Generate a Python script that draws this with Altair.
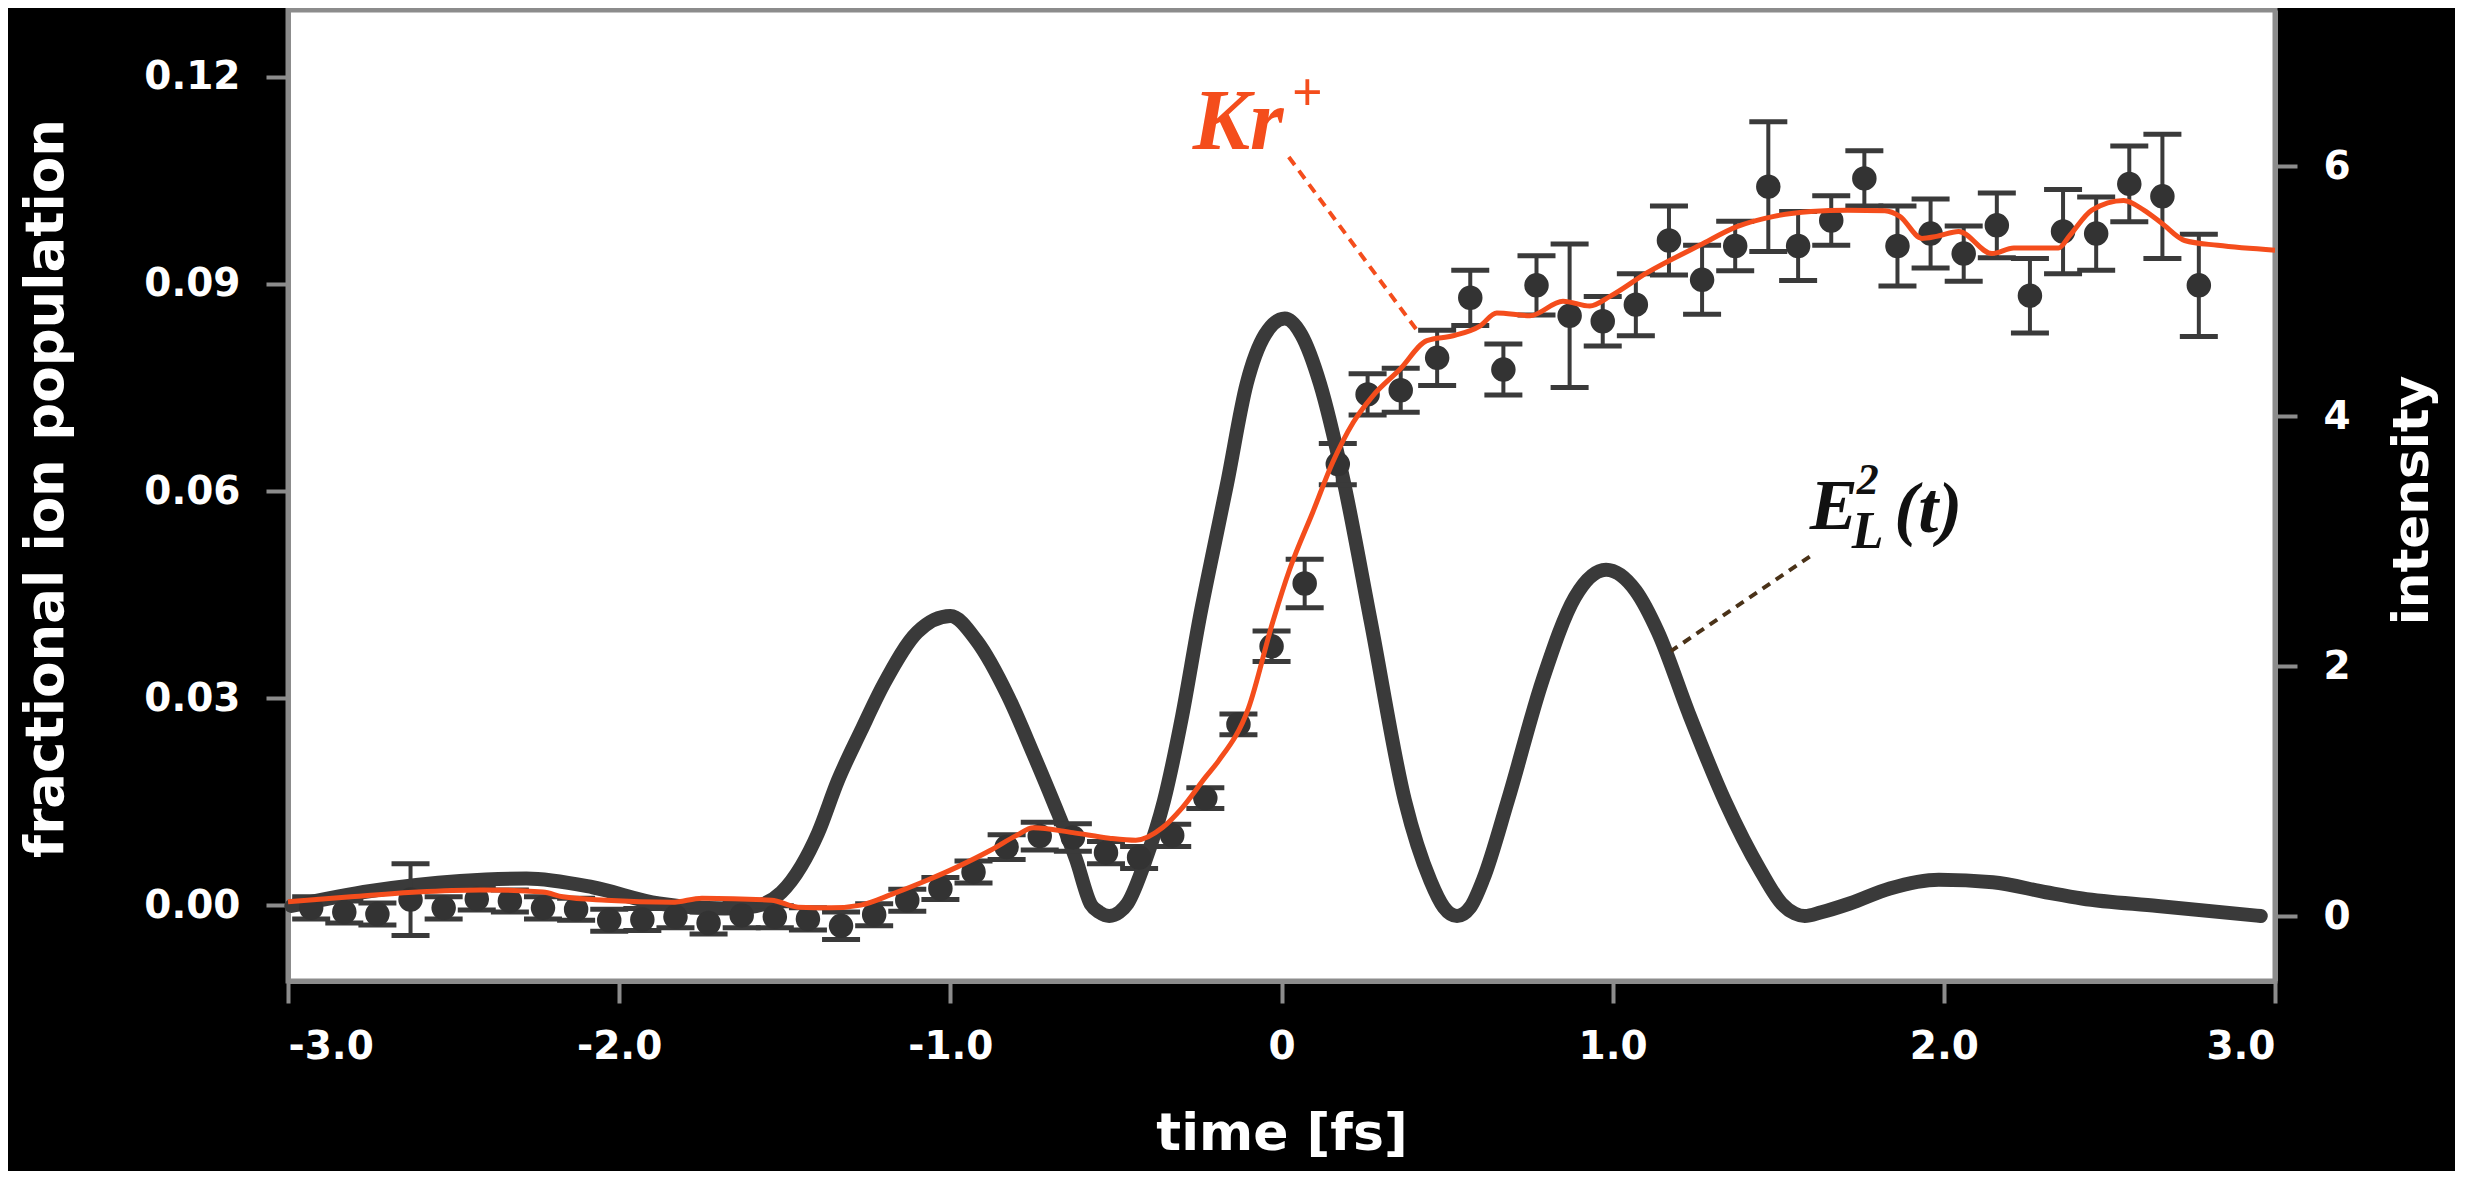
import altair as alt
import pandas as pd

# ---------------- data ----------------
# E_L^2(t) laser intensity (right axis)
int_t = [-2.99, -2.75, -2.48, -2.28, -2.08, -1.88, -1.68, -1.61, -1.56, -1.51, -1.45, -1.40, -1.34, -1.27,
         -1.20, -1.10, -1.00, -0.92, -0.826, -0.75, -0.69, -0.62, -0.575, -0.55, -0.52, -0.49, -0.465, -0.41,
         -0.355, -0.30, -0.246, -0.20, -0.165, -0.105, -0.05, 0.01, 0.06, 0.116, 0.186, 0.27,
         0.373, 0.45, 0.49, 0.53, 0.57, 0.61, 0.683, 0.79, 0.886, 0.98, 1.07, 1.137, 1.23, 1.339, 1.447,
         1.51, 1.55, 1.58, 1.63, 1.716, 1.837, 1.985, 2.148, 2.308, 2.417, 2.646, 2.957]
int_v = [0.08, 0.20, 0.28, 0.30, 0.23, 0.10, 0.06, 0.07, 0.10, 0.19, 0.40, 0.66, 1.08, 1.48,
         1.86, 2.27, 2.40, 2.20, 1.76, 1.30, 0.92, 0.45, 0.09, 0.03, 0.00, 0.03, 0.10, 0.45,
         0.92, 1.60, 2.40, 3.00, 3.45, 4.26, 4.65, 4.78, 4.65, 4.26, 3.50, 2.35,
         0.92, 0.28, 0.07, 0.00, 0.07, 0.30, 0.92, 1.90, 2.55, 2.77, 2.60, 2.27, 1.62, 0.92, 0.36,
         0.10, 0.02, 0.00, 0.03, 0.10, 0.22, 0.29, 0.27, 0.19, 0.14, 0.08, 0.00]

# Kr+ measured fractional ion population with error bars (left axis)
pt_t = [-2.93, -2.83, -2.73, -2.63, -2.53, -2.43, -2.33, -2.23, -2.13, -2.03,
        -1.93, -1.83, -1.73, -1.63, -1.53, -1.43, -1.33, -1.23, -1.13, -1.03,
        -0.93, -0.83, -0.73, -0.63, -0.53, -0.43, -0.33, -0.23, -0.13, -0.03,
        0.07, 0.17, 0.26, 0.36, 0.47, 0.57, 0.67, 0.77, 0.87, 0.97,
        1.07, 1.17, 1.27, 1.37, 1.47, 1.56, 1.66, 1.76, 1.86, 1.96,
        2.06, 2.16, 2.26, 2.36, 2.46, 2.56, 2.66, 2.77]
pt_v = [-0.0004, -0.0010, -0.0013, 0.0008, -0.0004, 0.0009, 0.0006, -0.0004, -0.0006, -0.0022,
        -0.0021, -0.0017, -0.0026, -0.0015, -0.0017, -0.0020, -0.0030, -0.0014, 0.0007, 0.0024,
        0.0048, 0.0084, 0.0100, 0.0098, 0.0076, 0.0069, 0.0101, 0.0155, 0.0262, 0.0375,
        0.0466, 0.0639, 0.0740, 0.0746, 0.0793, 0.0880, 0.0776, 0.0898, 0.0854, 0.0846,
        0.0870, 0.0963, 0.0906, 0.0955, 0.1041, 0.0955, 0.0992, 0.1053, 0.0955, 0.0973,
        0.0944, 0.0985, 0.0883, 0.0976, 0.0973, 0.1045, 0.1027, 0.0898]
pt_err = [0.0016, 0.0016, 0.0016, 0.0052, 0.0016, 0.0016, 0.0016, 0.0016, 0.0016, 0.0016,
          0.0016, 0.0016, 0.0016, 0.0018, 0.0016, 0.0016, 0.0020, 0.0016, 0.0016, 0.0016,
          0.0016, 0.0018, 0.0020, 0.0020, 0.0016, 0.0016, 0.0016, 0.0015, 0.0015, 0.0022,
          0.0035, 0.0030, 0.0030, 0.0032, 0.0040, 0.0040, 0.0037, 0.0043, 0.0104, 0.0036,
          0.0045, 0.0050, 0.0050, 0.0036, 0.0094, 0.0050, 0.0036, 0.0040, 0.0058, 0.0050,
          0.0040, 0.0047, 0.0054, 0.0061, 0.0053, 0.0055, 0.0090, 0.0074]

# theory curve for Kr+ (left axis)
th_t = [-3.0, -2.81, -2.61, -2.42, -2.23, -2.17, -2.04, -1.84, -1.75, -1.54, -1.46, -1.36,
        -1.27, -1.17, -1.07, -0.98, -0.88, -0.80, -0.75, -0.63, -0.52, -0.44, -0.36, -0.30,
        -0.23, -0.19, -0.10, -0.026, 0.025, 0.095, 0.155, 0.216, 0.276, 0.357, 0.439, 0.518,
        0.599, 0.650, 0.750, 0.850, 0.931, 0.992, 1.103, 1.263, 1.375, 1.487, 1.599, 1.710,
        1.822, 1.867, 1.934, 1.978, 2.045, 2.145, 2.211, 2.346, 2.380, 2.447, 2.543, 2.604,
        2.658, 2.727, 2.827, 3.0]
th_v = [0.0005, 0.0012, 0.0019, 0.0022, 0.0019, 0.0012, 0.0007, 0.0004, 0.0010, 0.0007, -0.0003, -0.0004,
        0.0000, 0.0017, 0.0036, 0.0055, 0.0079, 0.0101, 0.0112, 0.0105, 0.0097, 0.0094, 0.0112, 0.0141,
        0.0185, 0.0209, 0.0285, 0.0411, 0.0487, 0.0570, 0.0642, 0.0699, 0.0738, 0.0776, 0.0818, 0.0825,
        0.0839, 0.0858, 0.0854, 0.0875, 0.0868, 0.0882, 0.0916, 0.0956, 0.0983, 0.0998, 0.1005, 0.1007,
        0.1006, 0.0998, 0.0966, 0.0969, 0.0976, 0.0944, 0.0952, 0.0952, 0.0970, 0.1007, 0.1021, 0.1007,
        0.0988, 0.0963, 0.0956, 0.0949]

x_ticks = [-3, -2, -1, 0, 1, 2, 3]
left_ticks = [0.0, 0.03, 0.06, 0.09, 0.12]
right_ticks = [0, 2, 4, 6]

# annotation anchors (data coordinates)
kr_text = ["Kr", "+"]
kr_t = [-0.268, 0.030]
kr_f = [0.1096, 0.1152]
kr_size = [86, 54]
e_text = ["E", "2", "L", "(t)"]
e_t = [1.595, 1.737, 1.722, 1.850]
e_f = [0.0545, 0.0596, 0.0518, 0.0541]
e_size = [72, 44, 52, 72]
kr_lead = {"t": [0.022], "f": [0.1084], "t2": [0.415], "f2": [0.0829]}
e_lead = {"t": [1.595], "f": [0.0505], "t2": [1.176], "f2": [0.0368]}

# ---------------- chart ----------------
W, H = 1987, 971
GRAY = "#8c8c8c"
DARK = "#3a3a3a"
RED = "#f44d1c"
XDOM = [-3, 3]
FDOM = [-0.011, 0.1297]
IDOM = [-0.52, 7.248]

x_axis = alt.Axis(values=x_ticks, title="time [fs]",
                  labelExpr="datum.value == 0 ? '0' : (datum.value < 0 ? '-' : '') + format(abs(datum.value), '.1f')",
                  labelPadding=24, titleX=W / 2, titleY=152, titleAlign="center",
                  titleBaseline="middle", titleFontSize=52, orient="bottom")
f_axis = alt.Axis(values=left_ticks, format=".2f", title="fractional ion population",
                  orient="left", labelPadding=26, titleX=-242, titleY=478,
                  titleAngle=270, titleAlign="center", titleBaseline="middle", titleFontSize=53)
i_axis = alt.Axis(values=right_ticks, format="d", title="intensity", orient="right",
                  labelPadding=26, titleX=137, titleY=490, titleAngle=270,
                  titleAlign="center", titleBaseline="middle", titleFontSize=50)


def X(field):
    return alt.X(f"{field}:Q", scale=alt.Scale(domain=XDOM, nice=False, zero=False), axis=x_axis)


def YF(field):
    return alt.Y(f"{field}:Q", scale=alt.Scale(domain=FDOM, nice=False, zero=False), axis=f_axis)


int_df = pd.DataFrame({"t": int_t, "I": int_v})
pts_df = pd.DataFrame({"t": pt_t, "f": pt_v, "e": pt_err})
pts_df["lo"] = pts_df["f"] - pts_df["e"]
pts_df["hi"] = pts_df["f"] + pts_df["e"]
th_df = pd.DataFrame({"t": th_t, "f": th_v})
kr_df = pd.DataFrame({"t": kr_t, "f": kr_f, "txt": kr_text, "s": kr_size})
e_df = pd.DataFrame({"t": e_t, "f": e_f, "txt": e_text, "s": e_size})

intensity = alt.Chart(int_df).mark_line(
    color=DARK, strokeWidth=14, strokeCap="round", strokeJoin="round", interpolate="monotone"
).encode(
    x=X("t"),
    y=alt.Y("I:Q", scale=alt.Scale(domain=IDOM, nice=False, zero=False), axis=i_axis),
)

err = alt.Chart(pts_df).mark_rule(color=DARK, strokeWidth=4).encode(
    x=X("t"), y=YF("lo"), y2="hi:Q")
cap_lo = alt.Chart(pts_df).mark_tick(color=DARK, orient="horizontal", size=38, thickness=5,
                                     opacity=1).encode(x=X("t"), y=YF("lo"))
cap_hi = alt.Chart(pts_df).mark_tick(color=DARK, orient="horizontal", size=38, thickness=5,
                                     opacity=1).encode(x=X("t"), y=YF("hi"))
dots = alt.Chart(pts_df).mark_circle(color="#333333", size=600, opacity=1).encode(
    x=X("t"), y=YF("f"))
theory = alt.Chart(th_df).mark_line(color=RED, strokeWidth=5, interpolate="monotone").encode(
    x=X("t"), y=YF("f"))

kr_lead_l = alt.Chart(pd.DataFrame(kr_lead)).mark_rule(
    color=RED, strokeWidth=4, strokeDash=[10, 7]).encode(
    x=X("t"), y=YF("f"), x2="t2:Q", y2="f2:Q")
e_lead_l = alt.Chart(pd.DataFrame(e_lead)).mark_rule(
    color="#4a3218", strokeWidth=4, strokeDash=[9, 7]).encode(
    x=X("t"), y=YF("f"), x2="t2:Q", y2="f2:Q")

kr_lbl = alt.Chart(kr_df).mark_text(
    color=RED, font="Liberation Serif", fontStyle="italic", fontWeight="bold",
    align="left", baseline="alphabetic").encode(
    x=X("t"), y=YF("f"), text="txt:N", size=alt.Size("s:Q", scale=None, legend=None))
e_lbl = alt.Chart(e_df).mark_text(
    color="#111111", font="Liberation Serif", fontStyle="italic", fontWeight="bold",
    align="left", baseline="alphabetic").encode(
    x=X("t"), y=YF("f"), text="txt:N", size=alt.Size("s:Q", scale=None, legend=None))

frac_layer = alt.layer(err, cap_lo, cap_hi, dots, theory, kr_lead_l, e_lead_l, kr_lbl, e_lbl)

chart = alt.layer(intensity, frac_layer).resolve_scale(y="independent").properties(
    width=W, height=H,
    background="black",
    autosize=alt.AutoSizeParams(type="none"),
    padding={"left": 280, "top": 2, "right": 180, "bottom": 190},
).configure_view(
    fill="white", stroke=GRAY, strokeWidth=5
).configure_axis(
    grid=False, domainColor=GRAY, domainWidth=5, tickColor=GRAY, tickWidth=4, tickSize=22,
    labelColor="white", labelFont="DejaVu Sans", labelFontWeight="bold", labelFontSize=39,
    titleColor="white", titleFont="DejaVu Sans", titleFontWeight="bold",
)

chart.save("out.html", embed_options={"renderer": "svg", "actions": False})
